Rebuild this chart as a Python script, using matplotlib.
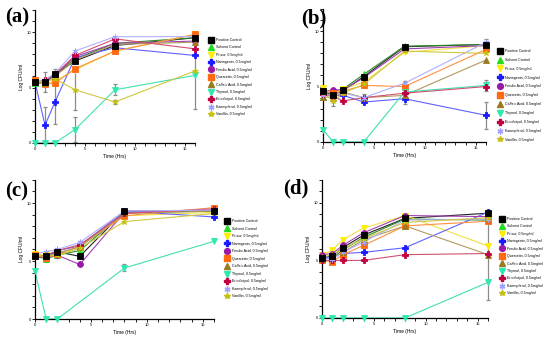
import numpy as np
import matplotlib.pyplot as plt
from matplotlib.lines import Line2D
from matplotlib.ticker import MultipleLocator

plt.rcParams['font.family'] = ['Liberation Sans', 'DejaVu Sans']

time = [0, 1, 2, 4, 8, 16]

labels = ["Positive Control", "Solvent Control", "Prisur, 0.5mg/ml", "Naringenin, 0.5mg/ml",
          "Ferulic Acid, 0.5mg/ml", "Quercetin, 0.5mg/ml", "Caffeic Acid, 0.5mg/ml",
          "Thymol, 0.5mg/ml", "Eriodictyol, 0.5mg/ml", "Kaempferol, 0.5mg/ml", "Vanillin, 0.5mg/ml"]
colors = ["#000000", "#22dd22", "#ffee00", "#1a1aff", "#9a1aa8", "#ff6a10", "#9a7a22",
          "#2ee8b0", "#c00040", "#a0a0ff", "#c8c010"]
line_colors = ["#222222", "#2a8a2a", "#f0e040", "#6060ff", "#a040b0", "#ff9040", "#b09a60",
               "#40e0b0", "#d05070", "#b0b0ff", "#d0c840"]
markers = ["s", "^", "v", "P", "o", "s", "^", "v", "P", (6, 2, 0), "*"]

# panel (a)
a_pos = [5.5, 5.5, 6.2, 7.4, 8.8, 9.5]
a_solv = [5.4, 5.4, 6.2, 7.6, 9.0, 9.5]
a_prisur = [5.6, 5.3, 5.6, 6.6, 8.3, 9.8]
a_nar = [5.5, 1.6, 3.7, 7.7, 8.6, 7.9]
a_fer = [5.6, 5.6, 6.1, 7.8, 9.0, 9.2]
a_quer = [5.7, 5.3, 5.4, 6.7, 8.3, 9.8]
a_caf = [5.5, 5.4, 6.0, 7.5, 8.9, 9.1]
a_thy = [0, 0, 0, 1.2, 4.8, 6.1]
a_erio = [5.5, 5.7, 6.2, 7.9, 9.4, 8.5]
a_kae = [5.6, 5.7, 6.3, 8.3, 9.6, 9.6]
a_van = [5.6, 5.5, 5.8, 4.8, 3.7, 6.5]

# panel (b)
b_pos = [4.6, 4.2, 4.65, 5.9, 8.6, 8.8]
b_solv = [4.1, 4.5, 4.8, 6.1, 8.65, 8.8]
b_prisur = [4.9, 4.4, 4.8, 5.4, 8.1, 8.7]
b_nar = [4.3, 4.2, 4.2, 3.6, 3.9, 2.4]
b_fer = [4.5, 4.7, 4.7, 5.8, 8.4, 8.7]
b_quer = [4.6, 4.4, 4.6, 5.1, 5.0, 8.35]
b_caf = [4.1, 4.0, 4.5, 4.0, 4.2, 7.4]
b_thy = [1.1, 0, 0, 0, 4.5, 5.1]
b_erio = [4.3, 4.1, 3.7, 4.0, 4.4, 5.0]
b_kae = [4.2, 4.3, 4.4, 4.0, 5.3, 9.0]
b_van = [4.4, 3.7, 4.4, 5.2, 8.2, 8.0]

# panel (c)
c_pos = [5.4, 5.4, 5.8, 5.4, 9.3, 9.3]
c_solv = [5.4, 5.2, 5.5, 5.9, 9.2, 9.3]
c_prisur = [5.6, 5.5, 5.4, 6.3, 8.9, 9.2]
c_nar = [5.4, 5.4, 5.9, 6.3, 9.3, 8.8]
c_fer = [5.4, 5.3, 5.5, 4.7, 9.2, 9.4]
c_quer = [5.5, 5.3, 5.6, 6.3, 8.9, 9.6]
c_caf = [5.4, 5.4, 5.7, 6.2, 9.1, 9.3]
c_thy = [4.1, 0, 0, None, 4.4, 6.7]
c_erio = [5.4, 5.5, 5.9, 6.4, 9.1, 9.5]
c_kae = [5.6, 5.8, 6.0, 6.6, 9.3, 9.4]
c_van = [5.5, 5.4, 5.5, 6.1, 8.4, 9.1]

# panel (d)
d_pos = [5.2, 5.4, 6.1, 7.2, 8.65, 9.1]
d_solv = [5.2, 5.2, 5.9, 7.0, 8.6, 8.5]
d_prisur = [5.5, 5.9, 6.8, 7.8, 8.9, 6.25]
d_nar = [5.3, 5.3, 5.6, 5.7, 6.1, 9.2]
d_fer = [5.5, 5.6, 6.3, 7.4, 8.9, 8.8]
d_quer = [5.0, 4.9, 5.5, 6.3, 8.0, 8.4]
d_caf = [5.1, 5.2, 5.7, 6.8, 8.0, 5.5]
d_thy = [0, 0, 0, 0, 0, 3.1]
d_erio = [5.0, 5.0, 5.0, 5.0, 5.5, 5.6]
d_kae = [5.2, 5.1, 5.7, 6.6, 8.5, 8.6]
d_van = [5.3, 5.5, 6.0, 6.9, 8.3, 8.7]

# error bars (series index -> sd per time point)
a_err = {0: [0, 0.9, 0.5, 0, 0, 0], 3: [0, 1.6, 2.0, 0, 0, 0], 7: [0, 0, 0, 1.1, 0.5, 3.0],
         10: [0, 0, 0, 1.8, 0.2, 0]}
b_err = {10: [0, 0.5, 0, 0, 0, 0], 6: [0, 0, 0, 0.3, 0, 0], 3: [0, 0, 0, 0, 0.5, 1.2],
         7: [0, 0, 0, 0, 0, 0.5], 9: [0, 0, 0, 0, 0.2, 0.3]}
c_err = {6: [0, 0, 0, 0.5, 0, 0], 7: [0, 0, 0, 0, 0.3, 0]}
d_err = {6: [0, 0, 0, 0, 0, 3.9], 0: [0, 0.3, 0, 0, 0, 0.3]}

panels = [
    ("(a)", [a_pos, a_solv, a_prisur, a_nar, a_fer, a_quer, a_caf, a_thy, a_erio, a_kae, a_van], a_err,
     [35 / 550, 0.576, 160 / 550, 0.394], (5, 17), (210, 42), 0.95),
    ("(b)", [b_pos, b_solv, b_prisur, b_nar, b_fer, b_quer, b_caf, b_thy, b_erio, b_kae, b_van], b_err,
     [323 / 550, 0.579, 163 / 550, 0.394], (301, 18), (499, 53), 1.35),
    ("(c)", [c_pos, c_solv, c_prisur, c_nar, c_fer, c_quer, c_caf, c_thy, c_erio, c_kae, c_van], c_err,
     [35 / 550, 0.0534, 179 / 550, 0.413], (5, 191), (226, 223), 0.98),
    ("(d)", [d_pos, d_solv, d_prisur, d_nar, d_fer, d_quer, d_caf, d_thy, d_erio, d_kae, d_van], d_err,
     [322 / 550, 0.0564, 166 / 550, 0.41], (283, 188), (501, 221), 0.95),
]

fig = plt.figure(figsize=(5.5, 3.37), dpi=100)

for tag, series, errs, rect, tag_xy, leg_xy, lsp in panels:
    ax = fig.add_axes(rect)
    for i, vals in enumerate(series):
        t = [tt for tt, v in zip(time, vals) if v is not None]
        v = [vv for vv in vals if vv is not None]
        ax.plot(t, v, color=line_colors[i], lw=0.8, zorder=2, clip_on=False)
    for i, e in errs.items():
        t = [tt for tt, ee in zip(time, e) if ee > 0]
        v = [series[i][time.index(tt)] for tt in t]
        ee = [x for x in e if x > 0]
        ax.errorbar(t, v, yerr=ee, fmt="none", ecolor="#8c8c8c", elinewidth=0.9,
                    capsize=1.5, capthick=0.9, zorder=1, clip_on=False)
    for i, vals in enumerate(series):
        t = [tt for tt, v in zip(time, vals) if v is not None]
        v = [vv for vv in vals if vv is not None]
        ax.plot(t, v, ls="none", marker=markers[i], ms=4.2, color=colors[i],
                mec=colors[i], mew=0.6, zorder=3 + (i == 0), clip_on=False)
    ax.set_xlim(0, 16)
    ax.set_ylim(0, 12)
    ax.xaxis.set_major_locator(MultipleLocator(5))
    ax.xaxis.set_minor_locator(MultipleLocator(1))
    ax.yaxis.set_major_locator(MultipleLocator(5))
    ax.yaxis.set_minor_locator(MultipleLocator(1))
    ax.set_yticks([0, 5, 10])
    ax.tick_params(which="both", labelsize=3, width=0.6, length=2, pad=1)
    for s in ["top", "right"]:
        ax.spines[s].set_visible(False)
    for s in ["left", "bottom"]:
        ax.spines[s].set_linewidth(0.9)
    ax.set_xlabel("Time (Hrs)", fontsize=3.5, labelpad=2)
    ax.set_ylabel("Log CFU/ml", fontsize=3.5, labelpad=2)

    fig.text(tag_xy[0] / 550, 1 - tag_xy[1] / 337, tag, fontsize=15, fontweight="bold",
             family="Liberation Serif", va="center", ha="left")

    handles = [Line2D([], [], ls="none", marker=markers[i], color=colors[i], ms=4.2)
               for i in range(len(labels))]
    fig.legend(handles, labels, loc="upper left", fontsize=2.6, frameon=False,
               bbox_to_anchor=(leg_xy[0] / 550, 1 - (leg_xy[1] - 4) / 337),
               handlelength=0.8, handletextpad=0.9, labelspacing=lsp, borderpad=0,
               borderaxespad=0)

fig.savefig("out.png", dpi=100)
